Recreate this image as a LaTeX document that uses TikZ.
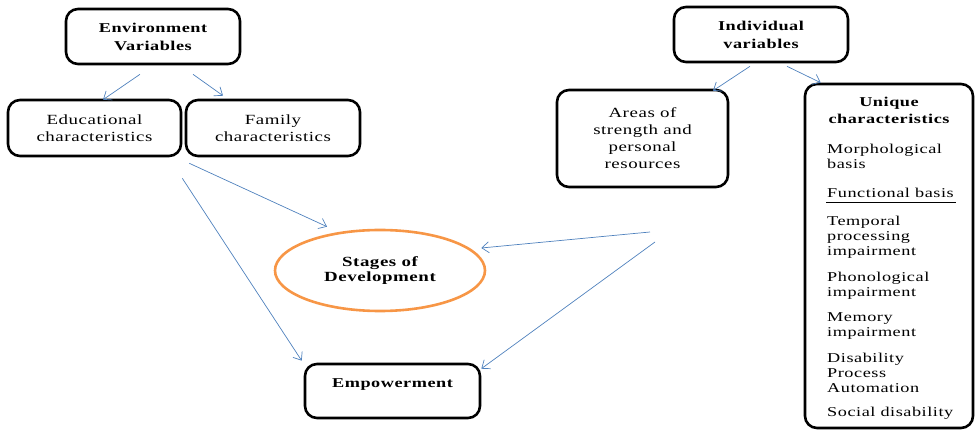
\documentclass[tikz,border=0pt]{standalone}
\usepackage{fontspec}
\setmainfont[FakeStretch=1.35,LetterSpace=4]{Liberation Serif}
\usetikzlibrary{shapes.geometric,arrows.meta}

\definecolor{linkblue}{RGB}{79,129,189}
\definecolor{ringorange}{RGB}{247,150,70}

\tikzset{
  box/.style={draw, line width=2.6pt, rounded corners=12pt, align=center,
    inner sep=0pt, font=\fontsize{14}{17}\selectfont},
  headbox/.style={box, font=\fontsize{13.5}{18}\selectfont\bfseries},
  item/.style={anchor=west, align=left, inner sep=0pt,
    font=\fontsize{13.5}{15}\selectfont},
  link/.style={draw=linkblue, line width=0.7pt,
    -{Straight Barb[length=7pt,width=11pt]}}
}

\begin{document}
\begin{tikzpicture}[x=1pt, y=-1pt]
            \useasboundingbox (0,0) rectangle (975,430);

            % Define boxes
            \node[headbox, minimum width=174pt, minimum height=55pt] (env) at (153,36.5) {Environment\\Variables};
            \node[box, minimum width=173pt, minimum height=56pt] (edu) at (94.5,128) {Educational\\characteristics};
            \node[box, minimum width=174pt, minimum height=56pt] (fam) at (273,128) {Family\\characteristics};
            \node[headbox, minimum width=174pt, minimum height=55pt] (ind) at (761,34.5) {Individual\\variables};
            \node[box, minimum width=171pt, minimum height=97pt] (areas) at (642.5,138.5) {Areas of\\strength and\\personal\\resources};
            \node[box, minimum width=168pt, minimum height=344pt] (uniq) at (889,256) {};
            \node[ellipse, draw=ringorange, line width=2.6pt, minimum width=210pt, minimum height=81pt,
              inner sep=0pt, align=center, font=\fontsize{14}{15.5}\selectfont\bfseries] (stages) at (380,270.5) {Stages of\\Development};
            \node[headbox, minimum width=175pt, minimum height=54pt, text depth=15pt] (emp) at (392.5,391) {Empowerment};

            % Unique characteristics list
            \node[align=center, inner sep=0pt, font=\fontsize{13.5}{17}\selectfont\bfseries] (uhead) at (889,110.5) {Unique\\characteristics};
            \node[item] (morph) at (827,156) {Morphological\\basis};
            \node[item] (func) at (827,193) {Functional basis};
            \node[item] (temp) at (827,237) {Temporal\\processing\\impairment};
            \node[item] (phon) at (827,285.5) {Phonological\\impairment};
            \node[item] (mem) at (827,326.5) {Memory\\impairment};
            \node[item] (dis) at (827,373) {Disability\\Process\\Automation};
            \node[item] (soc) at (827,413) {Social disability};
            \draw[line width=0.8pt] ([xshift=-1pt,yshift=-4pt]func.south west) -- ([xshift=129pt,yshift=-4pt]func.south west);

            % Free starts of the side arrows
            \coordinate (s1) at (650,232);
            \coordinate (s2) at (655,242);

            % Draw edges
            \draw[link] ([xshift=-13pt,yshift=-9pt]env.south) -- ([xshift=8.5pt,yshift=-1pt]edu.north);
            \draw[link] ([xshift=40pt,yshift=-9pt]env.south) -- ([xshift=-50pt,yshift=3pt]fam.north);
            \draw[link] ([xshift=-11pt,yshift=-3pt]ind.south) -- ([xshift=70.5pt,yshift=-2pt]areas.north);
            \draw[link] ([xshift=26pt,yshift=-3pt]ind.south) -- ([xshift=17pt]uniq.north west);
            \draw[link] ([xshift=7pt,yshift=-6pt]edu.south east) -- ([xshift=-53pt,yshift=2pt]stages.north);
            \draw[link] ([yshift=-21pt]edu.south east) -- ([xshift=-2pt,yshift=2pt]emp.north west);
            \draw[link] (s1) -- ([xshift=-5pt,yshift=22.5pt]stages.east);
            \draw[link] (s2) -- ([yshift=-6pt]emp.north east);
        \end{tikzpicture}
\end{document}
